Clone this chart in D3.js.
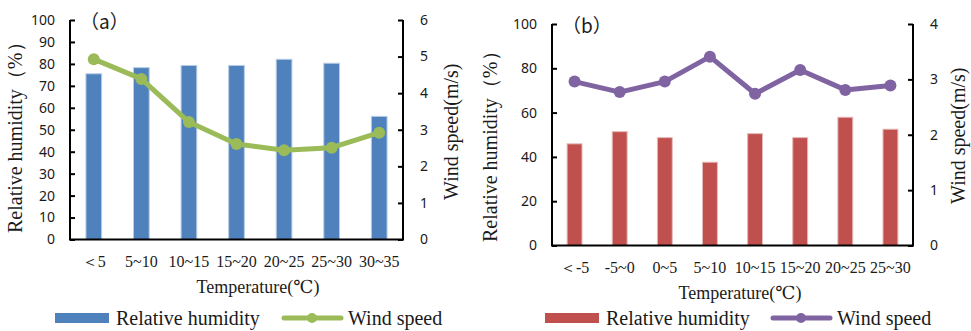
<!DOCTYPE html>
<meta charset="utf-8">
<style>
body { margin: 0; background: #fff; }
svg { display: block; }
.serif { font-family: "Liberation Serif", "Times New Roman", Tinos, "DejaVu Serif"; }
.sans { font-family: "Noto Sans", "Open Sans", sans-serif; }
.cjk { font-family: "Noto Sans CJK SC", "Noto Sans"; }
</style>
<svg width="971" height="331"></svg>
<script src="https://cdn.jsdelivr.net/npm/d3@7"></script>
<script>

// panel (a)
var catsA = ["<5", "5~10", "10~15", "15~20", "20~25", "25~30", "30~35"];
var humidityA = [75.5, 78.3, 79.3, 79.3, 82.1, 80.3, 56.1];
var windA = [4.93, 4.39, 3.21, 2.61, 2.44, 2.51, 2.92];
var humTicksA = [0, 10, 20, 30, 40, 50, 60, 70, 80, 90, 100];
var windTicksA = [0, 1, 2, 3, 4, 5, 6];

// panel (b)
var catsB = ["<-5", "-5~0", "0~5", "5~10", "10~15", "15~20", "20~25", "25~30"];
var humidityB = [45.9, 51.4, 48.7, 37.6, 50.5, 48.7, 57.9, 52.5];
var windB = [2.96, 2.77, 2.96, 3.41, 2.74, 3.17, 2.81, 2.89];
var humTicksB = [0, 20, 40, 60, 80, 100];
var windTicksB = [0, 1, 2, 3, 4];

var svg = d3.select("svg");

function txt(g, cls, size) {
  return g.append("text")
      .attr("class", cls)
      .attr("font-size", size)
      .attr("fill", "#1a1a1a");
}

function drawPanel(p) {
  var g = svg.append("g");

  var x = d3.scaleBand().domain(p.cats).range([p.left, p.right])
      .paddingInner(0.67).paddingOuter(0.335);
  var yL = d3.scaleLinear().domain([0, 100]).range([p.bottom, p.top]);
  var yR = d3.scaleLinear().domain([0, d3.max(p.windTicks)]).range([p.bottom, p.top]);

  // bars
  g.selectAll(".bar")
    .data(p.humidity)
    .enter().append("rect")
      .attr("x", function(d, i) { return x(p.cats[i]); })
      .attr("y", function(d) { return yL(d); })
      .attr("width", x.bandwidth())
      .attr("height", function(d) { return p.bottom - yL(d); })
      .attr("fill", p.barColor)
      .attr("stroke", p.barEdge)
      .attr("stroke-width", 1);

  // axes, ticks pointing inwards
  var axL = g.append("g")
      .attr("transform", "translate(" + p.left + ",0)")
      .call(d3.axisRight(yL).tickValues(p.humTicks).tickSize(5).tickFormat(""));
  var axR = g.append("g")
      .attr("transform", "translate(" + p.right + ",0)")
      .call(d3.axisLeft(yR).tickValues(p.windTicks).tickSize(5).tickFormat(""));
  [axL, axR].forEach(function(a) {
    a.select(".domain").attr("stroke", "#000").attr("stroke-width", 2)
      .attr("d", "M0," + p.top + "V" + p.bottom);
    a.selectAll(".tick line").attr("stroke", "#000").attr("stroke-width", 2);
  });
  g.append("line")
      .attr("x1", p.left - 1).attr("x2", p.right + 1)
      .attr("y1", p.bottom).attr("y2", p.bottom)
      .attr("stroke", "#000").attr("stroke-width", 2);

  // tick labels
  p.humTicks.forEach(function(d) {
    txt(g, "sans", 14)
      .attr("x", p.left - 15)
      .attr("y", yL(d))
      .attr("dy", "0.35em")
      .attr("text-anchor", "end")
      .text(d);
  });
  p.windTicks.forEach(function(d) {
    txt(g, "sans", 14)
      .attr("x", p.right + 17)
      .attr("y", yR(d))
      .attr("dy", "0.35em")
      .text(d);
  });

  p.cats.forEach(function(d) {
    txt(g, "serif", 16)
      .attr("x", x(d) + x.bandwidth() / 2)
      .attr("y", p.bottom + 27)
      .attr("text-anchor", "middle")
      .text(d.replace("<", "\uff1c"));
  });

  // line
  var cx = function(d, i) { return x(p.cats[i]) + x.bandwidth() / 2; };
  g.append("path")
      .datum(p.wind)
      .attr("fill", "none")
      .attr("stroke", p.lineColor)
      .attr("stroke-width", 5)
      .attr("stroke-linejoin", "round")
      .attr("d", d3.line().x(cx).y(function(d) { return yR(d); }));
  g.selectAll(".pt")
    .data(p.wind)
    .enter().append("circle")
      .attr("cx", cx)
      .attr("cy", function(d) { return yR(d); })
      .attr("r", 6)
      .attr("fill", p.lineColor);

  // titles
  txt(g, "serif", 18)
      .attr("x", p.xTitleX)
      .attr("y", p.bottom + 53)
      .attr("text-anchor", "middle")
      .text("Temperature(\u2103)");
  txt(g, "serif", 20)
      .attr("transform", "translate(" + p.yTitleL + "," + ((p.top + p.bottom) / 2 + p.yTitleShift) + ") rotate(-90)")
      .attr("text-anchor", "middle")
      .text("Relative humidity\uff08%\uff09");
  txt(g, "serif", 20)
      .attr("transform", "translate(" + p.yTitleR + "," + ((p.top + p.bottom) / 2 + p.yTitleShiftR) + ") rotate(-90)")
      .attr("text-anchor", "middle")
      .text("Wind speed(m/s)");
  txt(g, "cjk", 19)
      .attr("x", p.left + 10)
      .attr("y", p.top + 9)
      .text(p.tag);

  // legend
  var ly = 318;
  g.append("rect")
      .attr("x", p.legX).attr("y", ly - 5)
      .attr("width", 54).attr("height", 10)
      .attr("fill", p.barColor);
  txt(g, "serif", 20)
      .attr("x", p.legX + 61).attr("y", ly + 7)
      .text("Relative humidity");
  g.append("line")
      .attr("x1", p.legX2).attr("x2", p.legX2 + 57)
      .attr("y1", ly).attr("y2", ly)
      .attr("stroke", p.lineColor).attr("stroke-width", 5)
      .attr("stroke-linecap", "round");
  g.append("circle")
      .attr("cx", p.legX2 + 28).attr("cy", ly).attr("r", 5)
      .attr("fill", p.lineColor);
  txt(g, "serif", 20)
      .attr("x", p.legX2 + 64).attr("y", ly + 7)
      .text("Wind speed");
}

drawPanel({
  cats: catsA, humidity: humidityA, wind: windA,
  humTicks: humTicksA, windTicks: windTicksA,
  left: 70, right: 403, top: 20, bottom: 239.5,
  barColor: "#4f81bd", barEdge: "#b9cde5", lineColor: "#9bbb59",
  xTitleX: 258, yTitleL: 22, yTitleShift: 3, yTitleR: 458, yTitleShiftR: 2,
  tag: "\uff08a\uff09", legX: 55, legX2: 284
});

drawPanel({
  cats: catsB, humidity: humidityB, wind: windB,
  humTicks: humTicksB, windTicks: windTicksB,
  left: 552, right: 913, top: 24, bottom: 245.5,
  barColor: "#c0504d", barEdge: "#e6b9b8", lineColor: "#8064a2",
  xTitleX: 740, yTitleL: 497, yTitleShift: 7, yTitleR: 965, yTitleShiftR: 1,
  tag: "\uff08b\uff09", legX: 545, legX2: 773
});

</script>
